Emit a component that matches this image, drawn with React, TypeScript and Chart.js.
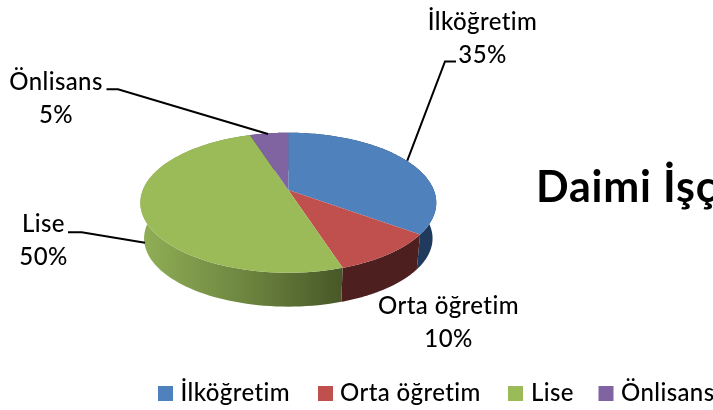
import React, { useEffect, useRef } from "react";
import { Chart, registerables } from "chart.js";

Chart.register(...registerables);

const categories = ["İlköğretim", "Orta öğretim", "Lise", "Önlisans"];
const values = [35, 10, 50, 5];
const colors = ["#4F81BD", "#C0504D", "#9BBB59", "#8064A2"];
const titleText = "Daimi İşç";

const FONT = "Lato, 'Open Sans', sans-serif";
const LABEL_FONT = `500 24px ${FONT}`;

// projection of the pie plane (perspective view from above)
const VX = 288.3, VY = 190, A = 145.5, B = 67.7, K = 0.1815;
const BOTTOM_SCALE = 0.975, DEPTH = 36;

const top3 = (a: number) => {
  const u = Math.cos(a), v = Math.sin(a), d = 1 - K * v;
  return [VX + (A * u) / d, VY + (B * v) / d];
};
const bottom3 = (a: number) => {
  const u = Math.cos(a), v = Math.sin(a), d = 1 - K * v;
  return [VX + (A * BOTTOM_SCALE * u) / d, VY + DEPTH + (B * BOTTOM_SCALE * v) / d];
};

const labelLayout = [
  { x: 482.5, y: 29.5, y2: 62.7, line: [[407.3, 160.7], [445, 61.5], [456, 61.5]] },
  { x: 448.5, y: 314, y2: 347, line: [] as number[][] },
  { x: 43.5, y: 231.7, y2: 265, line: [[68, 232.3], [81.7, 232.3], [145, 242.7]] },
  { x: 56, y: 89.5, y2: 123, line: [[106.5, 89.3], [118, 89.3], [268, 134]] },
];
const legendLayout = [
  { box: 158, text: 180.5 },
  { box: 318, text: 340 },
  { box: 508, text: 531 },
  { box: 598.5, text: 621 },
];

const pie3d = {
  id: "pie3d",
  beforeDatasetsDraw(chart: any) {
    const ctx: CanvasRenderingContext2D = chart.ctx;
    const arcs = chart.getDatasetMeta(0).data;
    const steps = 90;
    const sample = (s: number, e: number, f: (a: number) => number[]) => {
      const pts: number[][] = [];
      for (let i = 0; i <= steps; i++) pts.push(f(s + ((e - s) * i) / steps));
      return pts;
    };
    const sideGreen = ctx.createLinearGradient(145, 0, 342, 0);
    sideGreen.addColorStop(0, "#8FAD55");
    sideGreen.addColorStop(0.5, "#6E8640");
    sideGreen.addColorStop(1, "#485828");
    const sideFill = ["#1F3A5C", "#4E1F1F", sideGreen, "#4A3A60"];

    ctx.save();
    // outer walls
    arcs.forEach((arc: any, i: number) => {
      const t = sample(arc.startAngle, arc.endAngle, top3);
      const b = sample(arc.startAngle, arc.endAngle, bottom3).reverse();
      ctx.beginPath();
      [...t, ...b].forEach((p, j) => (j ? ctx.lineTo(p[0], p[1]) : ctx.moveTo(p[0], p[1])));
      ctx.closePath();
      ctx.fillStyle = sideFill[i] as any;
      ctx.fill();
    });
    // top faces
    arcs.forEach((arc: any, i: number) => {
      const t = sample(arc.startAngle, arc.endAngle, top3);
      ctx.beginPath();
      ctx.moveTo(VX, VY);
      t.forEach((p) => ctx.lineTo(p[0], p[1]));
      ctx.closePath();
      ctx.fillStyle = colors[i];
      ctx.fill();
    });
    ctx.restore();
    return false;
  },
  afterDraw(chart: any) {
    const ctx: CanvasRenderingContext2D = chart.ctx;
    const labels: string[] = chart.data.labels;
    const data: number[] = chart.data.datasets[0].data;
    const total = data.reduce((s, v) => s + v, 0);
    ctx.save();
    // leaders
    ctx.strokeStyle = "#000";
    ctx.lineWidth = 2;
    labelLayout.forEach((l) => {
      if (!l.line.length) return;
      ctx.beginPath();
      l.line.forEach((p, j) => (j ? ctx.lineTo(p[0], p[1]) : ctx.moveTo(p[0], p[1])));
      ctx.stroke();
    });
    // data labels
    ctx.fillStyle = "#000";
    ctx.font = LABEL_FONT;
    (ctx as any).letterSpacing = "0.4px";
    ctx.textAlign = "center";
    ctx.textBaseline = "alphabetic";
    labels.forEach((name, i) => {
      const l = labelLayout[i];
      ctx.fillText(name, l.x, l.y);
      ctx.fillText(`${Math.round((data[i] / total) * 100)}%`, l.x, l.y2);
    });
    // title
    ctx.font = `bold 43px ${FONT}`;
    (ctx as any).letterSpacing = "0.8px";
    ctx.textAlign = "left";
    ctx.fillText(titleText, 536, 201.5);
    // legend
    ctx.font = LABEL_FONT;
    (ctx as any).letterSpacing = "0.4px";
    labels.forEach((name, i) => {
      const l = legendLayout[i];
      ctx.fillStyle = colors[i];
      ctx.fillRect(l.box, 386, 15, 15);
      ctx.fillStyle = "#000";
      ctx.fillText(name, l.text, 401);
    });
    ctx.restore();
  },
};

export default function App() {
  const ref = useRef<HTMLCanvasElement>(null);
  useEffect(() => {
    document.body.style.margin = "0";
    const chart = new Chart(ref.current!, {
      type: "pie",
      data: {
        labels: categories,
        datasets: [{ data: values, backgroundColor: colors, borderWidth: 0 }],
      },
      options: {
        animation: false,
        responsive: false,
        layout: { padding: { left: 140, right: 276, top: 54, bottom: 59 } },
        plugins: { legend: { display: false }, tooltip: { enabled: false } },
      },
      plugins: [pie3d],
    });
    return () => chart.destroy();
  }, []);
  return <canvas ref={ref} width={713} height={410} style={{ display: "block" }} />;
}
